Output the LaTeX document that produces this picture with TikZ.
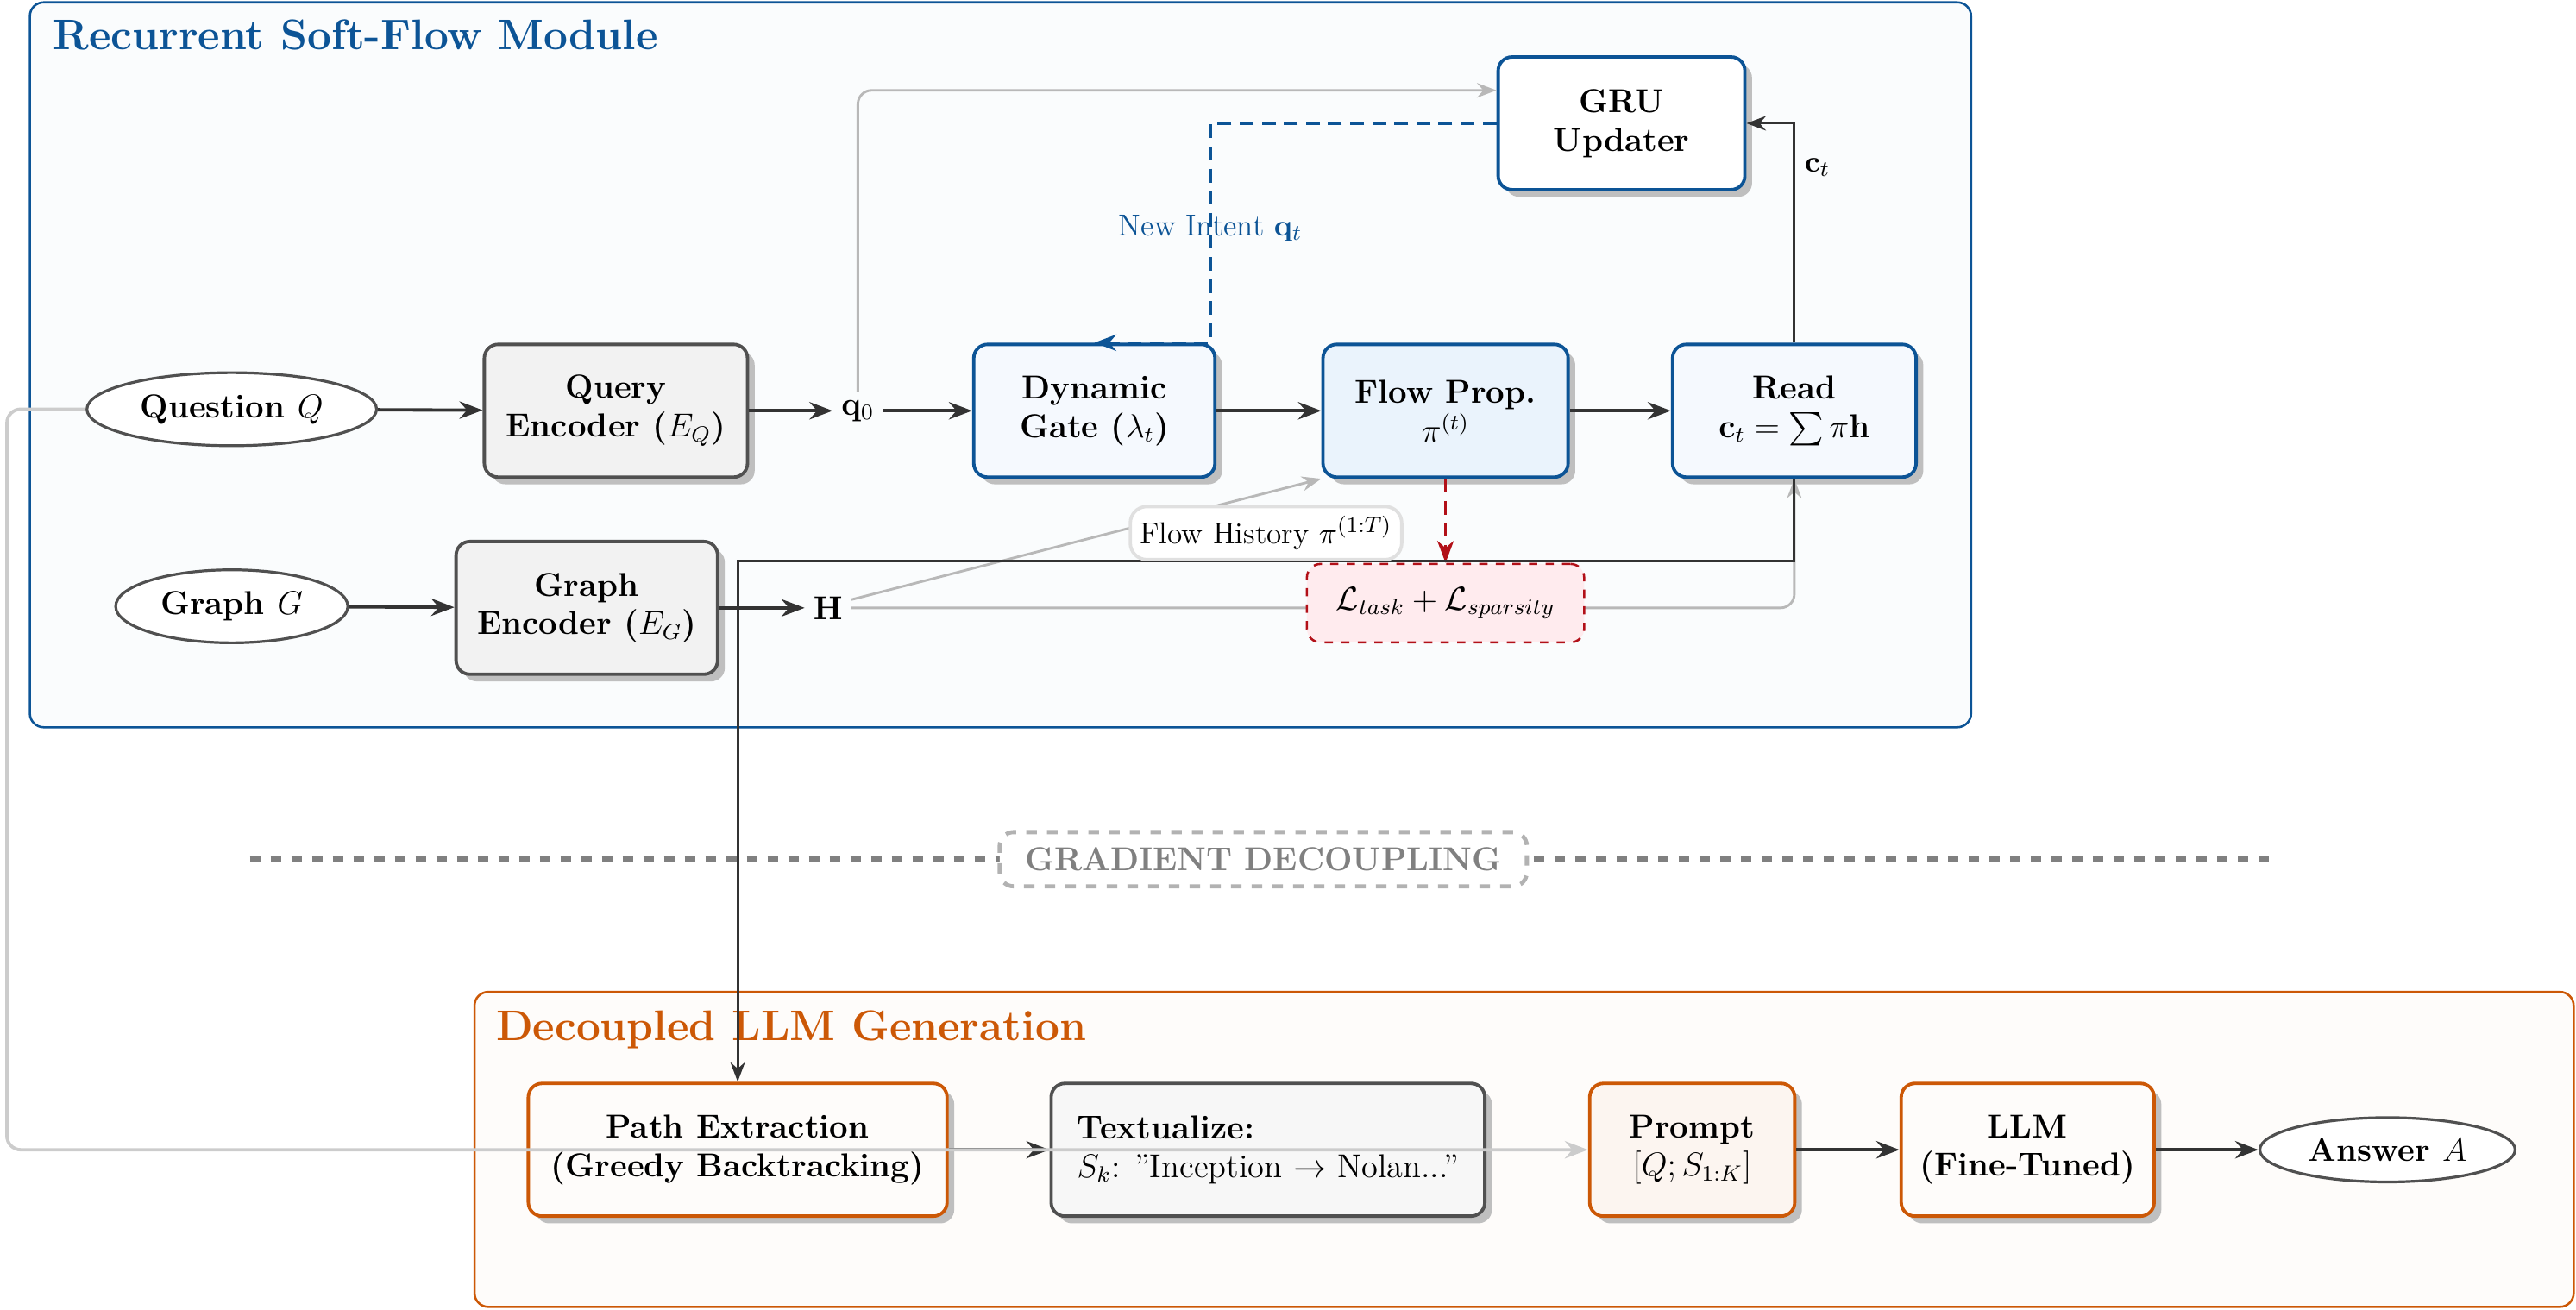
\documentclass[tikz,border=0pt]{standalone}
\usepackage{amsmath,amssymb}
\usetikzlibrary{arrows.meta}
\usetikzlibrary{shapes.geometric}
\usetikzlibrary{shadows}
\usetikzlibrary{backgrounds}
\definecolor{flowblue}{RGB}{12,84,150}
\definecolor{flowfill}{RGB}{234,243,252}
\definecolor{gatefill}{RGB}{245,249,254}
\definecolor{llmorange}{RGB}{204,88,6}
\definecolor{lossred}{RGB}{178,16,24}
\definecolor{lossfill}{RGB}{255,235,238}
\definecolor{darkln}{RGB}{51,51,51}
\definecolor{boxgray}{RGB}{80,80,80}
\tikzset{
  blk/.style={draw,rounded corners=5pt,line width=1.2pt,minimum height=1.69cm,inner sep=4pt,align=center,font=\large\bfseries,drop shadow={shadow xshift=2.6pt,shadow yshift=-2.6pt,fill=black!25,opacity=1}},
  blueblk/.style={blk,draw=flowblue,fill=gatefill},
  grayblk/.style={blk,draw=boxgray,fill=black!5},
  orgblk/.style={blk,draw=llmorange,fill=llmorange!2},
  term/.style={ellipse,draw=boxgray,line width=1pt,fill=white,inner sep=4pt,font=\large\bfseries},
  vec/.style={inner sep=3pt,font=\large},
  flow/.style={-{Stealth},draw=darkln,line width=1.2pt},
  thinln/.style={-{Stealth},draw=darkln,line width=.9pt},
  soft/.style={-{Stealth},draw=black!28,line width=.9pt,rounded corners=5pt},
  hist/.style={draw=black!12,line width=1.2pt,fill=white,rounded corners=6pt,inner sep=3.5pt,font=\fontsize{11}{13}\selectfont},
  lossbox/.style={draw=lossred,dashed,line width=.8pt,fill=lossfill,rounded corners=5pt,minimum width=3.53cm,minimum height=1cm,font=\large},
  gdbox/.style={draw=black!30,dash pattern=on 3.8pt off 3.7pt,line width=1.5pt,fill=white,rounded corners=5pt,text=black!50,font=\large\bfseries,minimum width=6.71cm,minimum height=.69cm},
  gdline/.style={draw=black!50,line width=2.1pt,dash pattern=on 3.8pt off 3.7pt},
  ttl/.style={anchor=west,font=\fontsize{15.5}{18}\selectfont\bfseries},
}
\begin{document}
\begin{tikzpicture}
\useasboundingbox (0,0) rectangle (32.79,-16.67);
\begin{scope}[on background layer]
\draw[draw=flowblue,line width=.8pt,fill=flowblue!2,rounded corners=5pt] (0.38,-0.03) rectangle (25.09,-9.26);
\draw[draw=llmorange,line width=.8pt,fill=llmorange!2,rounded corners=5pt] (6.04,-12.63) rectangle (32.76,-16.64);
\node[ttl,text=flowblue] (T1) at (0.55,-0.44) {Recurrent Soft-Flow Module};
\node[ttl,text=llmorange] (T2) at (6.19,-13.11) {Decoupled LLM Generation};
\end{scope}

\draw (2.95,-5.21) node[term] (Qn) {Question $Q$};
\draw (7.84,-5.23) node[grayblk,minimum width=3.35cm] (EQ) {Query\\Encoder ($E_Q$)};
\draw (10.92,-5.23) node[vec] (q0) {$\mathbf{q}_0$};
\draw (13.93,-5.23) node[blueblk,minimum width=3.07cm] (DG) {Dynamic\\Gate ($\lambda_t$)};
\draw (18.40,-5.23) node[blueblk,fill=flowfill,minimum width=3.12cm] (FP) {Flow Prop.\\$\pi^{(t)}$};
\draw (22.84,-5.23) node[blueblk,minimum width=3.1cm] (Rd) {Read\\$\mathbf{c}_t=\sum\pi\mathbf{h}$};
\draw (20.64,-1.57) node[blueblk,fill=white,minimum width=3.14cm] (GRU) {GRU\\Updater};
\draw (2.95,-7.72) node[term] (Gr) {Graph $G$};
\draw (7.47,-7.74) node[grayblk,minimum width=3.33cm] (EG) {Graph\\Encoder ($E_G$)};
\draw (10.54,-7.74) node[vec] (H) {$\mathbf{H}$};

\draw (9.39,-14.64) node[orgblk,minimum width=5.33cm] (PE) {Path Extraction\\(Greedy Backtracking)};
\draw (16.14,-14.64) node[blk,draw=boxgray,fill=black!3,minimum width=5.52cm,align=left,font=\large] (Tx) {\textbf{Textualize:}\\$S_k$: ''Inception $\rightarrow$ Nolan...''};
\draw (21.54,-14.64) node[orgblk,fill=llmorange!6,minimum width=2.61cm] (Pr) {Prompt\\$[Q;S_{1:K}]$};
\draw (25.81,-14.64) node[orgblk,minimum width=3.22cm] (LLM) {LLM\\(Fine-Tuned)};
\draw (30.39,-14.64) node[term] (Ans) {Answer $A$};

\draw[flow] (Qn)--(EQ);
\draw[flow] (EQ)--(q0);
\draw[flow] (q0)--(DG);
\draw[flow] (DG)--(FP);
\draw[flow] (FP)--(Rd);
\draw[flow] (Gr)--(EG);
\draw[flow] (EG)--(H);
\draw[flow] (PE)--(Tx);
\draw[flow] (Pr)--(LLM);
\draw[flow] (LLM)--(Ans);

\draw[thinln] (Rd.north) |- (GRU.east) node[pos=.4,right,font=\fontsize{11}{13}\selectfont] {$\mathbf{c}_t$};
\draw[soft] (q0.north) |- ([yshift=.42cm]GRU.west);
\draw[-{Stealth},draw=flowblue,line width=1.1pt,dash pattern=on 5pt off 3pt] (GRU.west) -| node[pos=.74,text=flowblue,font=\fontsize{11}{13}\selectfont] {New Intent $\mathbf{q}_t$} ([xshift=1.48cm]DG.north)--(DG.north);

\draw[soft] ([yshift=3pt]H.east)--(FP.south west);
\draw[soft] (H.east) -| (Rd.south);
\draw (18.40,-7.68) node[lossbox] (L) {$\mathcal{L}_{task}+\mathcal{L}_{sparsity}$};
\draw[-{Stealth},draw=lossred,line width=1.1pt,dash pattern=on 5pt off 3pt] (FP.south)--(L.north);

\coordinate (D1) at (3.18,-10.94);
\coordinate (D2) at (28.96,-10.94);
\draw[gdline] (D1)--(D2);
\draw (16.08,-10.94) node[gdbox] (GD) {GRADIENT DECOUPLING};

\draw[thinln] (Rd.south)--++(0,-1.05) -| (PE.north) node[pos=.25,above,hist] {Flow History $\pi^{(1:T)}$};

\draw[soft,draw=black!20,line width=1.2pt] (Qn.west)--++(-1.0,0) |- (Pr.west);
\end{tikzpicture}
\end{document}
